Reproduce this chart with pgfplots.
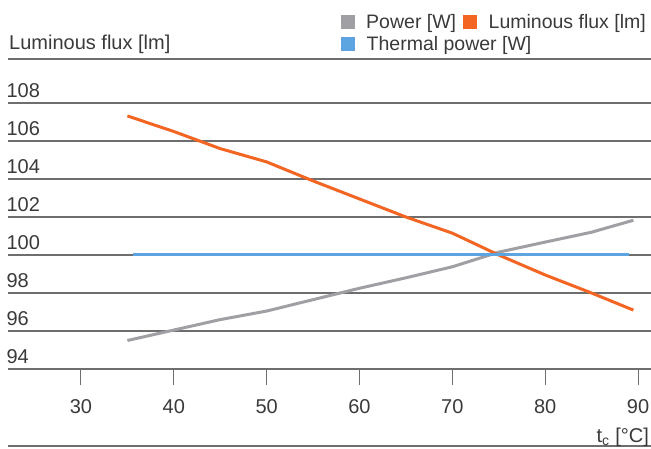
\documentclass[border=0pt]{standalone}
\usepackage{fontspec}
\setmainfont{Liberation Sans}
\usepackage{pgfplots}
\pgfplotsset{compat=1.18}
\definecolor{txt}{HTML}{3A3A3A}
\definecolor{gridc}{HTML}{6E6E6E}
\definecolor{cgray}{HTML}{A0A0A4}
\definecolor{corange}{HTML}{F26522}
\definecolor{cblue}{HTML}{5DA5E0}
\begin{document}
\begin{tikzpicture}
\useasboundingbox (-8pt,-79pt) rectangle (643pt,369pt);
\begin{axis}[
  at={(0pt,0pt)}, anchor=south west,
  scale only axis,
  width=643pt, height=310pt,
  xmin=22.14, xmax=91.4,
  ymin=94, ymax=110.316,
  clip=false,
  axis line style={draw=none},
  font=\fontsize{20}{23}\selectfont\color{txt},
  /pgf/number format/assume math mode=true,
  xtick={30,40,...,90},
  xtick pos=lower,
  tick align=outside,
  major tick length=16pt,
  xtick style={draw=gridc, line width=1pt},
  xticklabel style={anchor=base, yshift=-28pt},
  ytick={94,96,...,108},
  ytick style={draw=none},
  yticklabel style={anchor=base west, xshift=11pt, yshift=6pt},
  ymajorgrids,
  grid style={draw=gridc, line width=1.4pt},
  every axis y label/.style={at={(rel axis cs:0,1)}, anchor=base west, inner sep=0pt, xshift=1pt, yshift=10pt},
  ylabel={Luminous flux [lm]},
  every axis x label/.style={at={(rel axis cs:1,0)}, anchor=base east, inner sep=0pt, xshift=-2pt, yshift=-73pt},
  xlabel={t\textsubscript{c} [°C]},
  legend columns=2,
  legend cell align=left,
  legend style={at={(rel axis cs:1,1)}, anchor=north east, xshift=-5pt, yshift=45pt,
    draw=none, fill=none, inner sep=0pt, font=\fontsize{19.5}{23}\selectfont\color{txt},
    nodes={inner sep=0pt, text height=14pt, text depth=4pt},
    row sep=4pt, column sep=0pt,
    /tikz/every even column/.append style={column sep=7pt}},
  legend image code/.code={\fill[#1,draw=none] (0pt,-6pt) rectangle (14pt,8pt); \path (24pt,0pt);},
]
\addplot[cgray, line width=3pt] coordinates {
(35,95.5) (40,96.05) (45,96.6) (50,97.05) (55,97.65) (60,98.25) (65,98.8) (70,99.38) (75,100.15) (80,100.68) (85,101.2) (89.5,101.83)};
\addlegendentry{Power [W]}
\addplot[corange, line width=3pt] coordinates {
(35,107.32) (40,106.5) (45,105.6) (50,104.9) (55,103.9) (60,102.95) (65,102.0) (70,101.15) (75,100.0) (80,98.95) (85,98.0) (89.5,97.1)};
\addlegendentry{Luminous flux [lm]}
\addplot[cblue, line width=3pt] coordinates {(35.6,100.05) (89.0,100.05)};
\addlegendentry{\rlap{Thermal power [W]}}
\draw[gridc, line width=1.4pt] (rel axis cs:0,1) -- (rel axis cs:1,1);
\draw[gridc, line width=1.4pt] (axis cs:22.14,89.95) -- (axis cs:91.4,89.95);
\end{axis}
\end{tikzpicture}
\end{document}
